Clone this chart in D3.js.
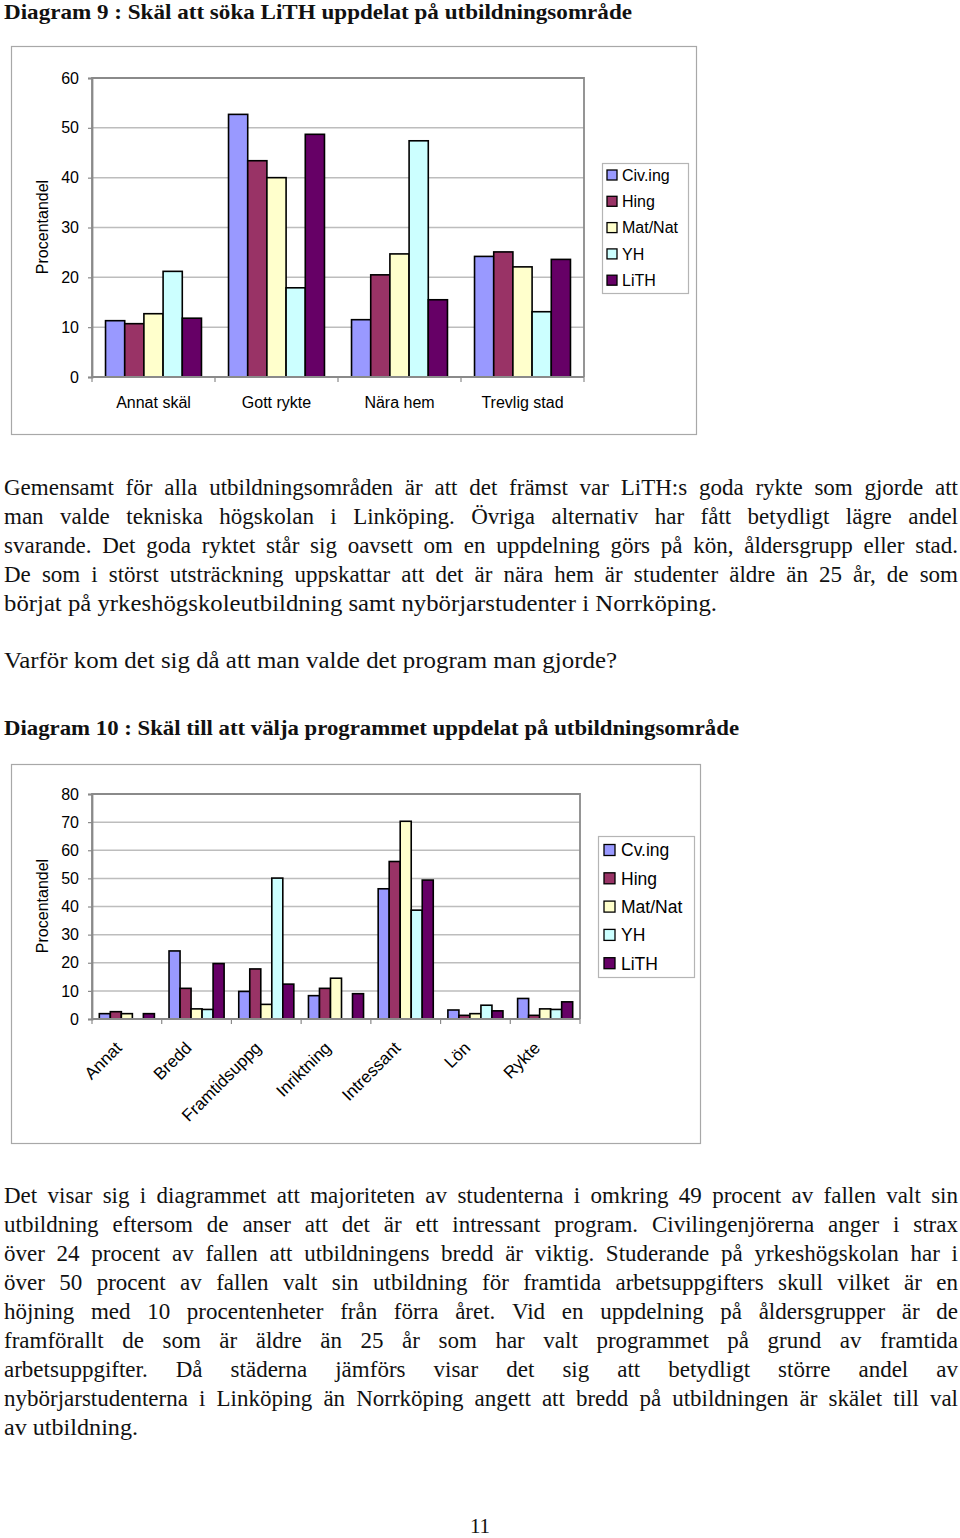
<!DOCTYPE html>
<html><head><meta charset="utf-8">
<script src="https://cdn.jsdelivr.net/npm/d3@7"></script>
<style>body{margin:0;background:#fff}svg{display:block}</style>
</head><body>
<svg id="page" width="960" height="1538"></svg>
<script>
// ---------- DATA ----------
const seriesNames1 = ["Civ.ing", "Hing", "Mat/Nat", "YH", "LiTH"];
const seriesNames2 = ["Cv.ing", "Hing", "Mat/Nat", "YH", "LiTH"];
const seriesColors = ["#9999FF", "#993366", "#FFFFCC", "#CCFFFF", "#660066"];

const c1Categories = ["Annat skäl", "Gott rykte", "Nära hem", "Trevlig stad"];
const c1CivIng = [11.3, 52.7, 11.5, 24.2];
const c1Hing   = [10.7, 43.4, 20.5, 25.1];
const c1MatNat = [12.7, 40.0, 24.7, 22.1];
const c1YH     = [21.2, 17.9, 47.4, 13.1];
const c1LiTH   = [11.8, 48.7, 15.5, 23.6];
const c1Ticks  = [0, 10, 20, 30, 40, 50, 60];

const c2Categories = ["Annat", "Bredd", "Framtidsuppg", "Inriktning", "Intressant", "Lön", "Rykte"];
const c2CivIng = [1.9, 24.2, 9.8, 8.3, 46.3, 3.2, 7.3];
const c2Hing   = [2.6, 10.9, 17.8, 10.9, 56.0, 1.3, 1.3];
const c2MatNat = [1.9, 3.6, 5.2, 14.5, 70.3, 1.9, 3.6];
const c2YH     = [0, 3.4, 50.1, 0, 38.7, 4.9, 3.4];
const c2LiTH   = [1.9, 19.7, 12.4, 9.0, 49.4, 2.9, 6.1];
const c2Ticks  = [0, 10, 20, 30, 40, 50, 60, 70, 80];

const yTitle = "Procentandel";

// ---------- TEXT ----------
const title1 = "Diagram 9 : Skäl att söka LiTH uppdelat på utbildningsområde";
const title2 = "Diagram 10 : Skäl till att välja programmet uppdelat på utbildningsområde";
const para1 = [
  ["Gemensamt för alla utbildningsområden är att det främst var LiTH:s goda rykte som gjorde att", "j"],
  ["man valde tekniska högskolan i Linköping. Övriga alternativ har fått betydligt lägre andel", "j"],
  ["svarande. Det goda ryktet står sig oavsett om en uppdelning görs på kön, åldersgrupp eller stad.", "j"],
  ["De som i störst utsträckning uppskattar att det är nära hem är studenter äldre än 25 år, de som", "j"],
  ["börjat på yrkeshögskoleutbildning samt nybörjarstudenter i Norrköping.", 717]
];
const question = ["Varför kom det sig då att man valde det program man gjorde?", 617];
const para2 = [
  ["Det visar sig i diagrammet att majoriteten av studenterna i omkring 49 procent av fallen valt sin", "j"],
  ["utbildning eftersom de anser att det är ett intressant program. Civilingenjörerna anger i strax", "j"],
  ["över 24 procent av fallen att utbildningens bredd är viktig. Studerande på yrkeshögskolan har i", "j"],
  ["över 50 procent av fallen valt sin utbildning för framtida arbetsuppgifters skull vilket är en", "j"],
  ["höjning med 10 procentenheter från förra året. Vid en uppdelning på åldersgrupper är de", "j"],
  ["framförallt de som är äldre än 25 år som har valt programmet på grund av framtida", "j"],
  ["arbetsuppgifter. Då städerna jämförs visar det sig att betydligt större andel av", "j"],
  ["nybörjarstudenterna i Linköping än Norrköping angett att bredd på utbildningen är skälet till val", "j"],
  ["av utbildning.", 138]
];

const svg = d3.select("#page");
svg.append("rect").attr("width", 960).attr("height", 1538).attr("fill", "#fff");

const SERIF = "'Liberation Serif','DejaVu Serif',serif";
const SANS = "'Liberation Sans',Arial,sans-serif";
const LEFT = 4, RIGHT = 958, FS = 23;

function textLine(str, y, mode, bold, size) {
  const g = svg.append("g");
  const font = s => s.attr("font-family", SERIF).attr("font-size", size || FS)
    .attr("font-weight", bold ? "bold" : "normal").attr("fill", "#111");
  if (mode === "j") {
    const words = str.split(" ");
    const widths = words.map(w => {
      const t = font(g.append("text")).text(w);
      const wd = t.node().getComputedTextLength(); t.remove(); return wd;
    });
    const total = d3.sum(widths);
    const gap = (RIGHT - LEFT - total) / (words.length - 1);
    if (gap >= 4) {
      let x = LEFT;
      words.forEach((w, i) => {
        font(g.append("text")).attr("x", x).attr("y", y).text(w);
        x += widths[i] + gap;
      });
    } else {
      font(g.append("text")).attr("x", LEFT).attr("y", y)
        .attr("textLength", RIGHT - LEFT).attr("lengthAdjust", "spacingAndGlyphs").text(str);
    }
  } else {
    font(g.append("text")).attr("x", LEFT).attr("y", y)
      .attr("textLength", mode - LEFT).attr("lengthAdjust", "spacingAndGlyphs").text(str);
  }
}

textLine(title1, 19, 632, true, 21.5);
textLine(title2, 735, 739, true, 21.5);
para1.forEach((l, i) => textLine(l[0], 495 + i * 29, l[1]));
textLine(question[0], 668, question[1]);
para2.forEach((l, i) => textLine(l[0], 1203 + i * 29, l[1]));
svg.append("text").attr("x", 480).attr("y", 1533).attr("text-anchor", "middle")
  .attr("font-family", SERIF).attr("font-size", 21).attr("fill", "#111").text("11");

// ---------- CHART FUNCTION ----------
function drawChart(cfg) {
  const g = svg.append("g");
  g.append("rect").attr("x", cfg.frame[0] + 0.5).attr("y", cfg.frame[1] + 0.5)
    .attr("width", cfg.frame[2] - cfg.frame[0]).attr("height", cfg.frame[3] - cfg.frame[1])
    .attr("fill", "#fff").attr("stroke", "#a8a8a8").attr("stroke-width", 1.2);

  const [px0, py0, px1, py1] = cfg.plot;
  const y = d3.scaleLinear().domain([0, cfg.ticks[cfg.ticks.length - 1]]).range([py1, py0]);
  const x0 = d3.scaleBand().domain(cfg.categories).range([px0, px1])
    .paddingInner(cfg.pad).paddingOuter(cfg.pad / 2);
  const x1 = d3.scaleBand().domain(d3.range(cfg.series.length)).range([0, x0.bandwidth()]);

  g.append("g").selectAll("line").data(cfg.ticks.filter(t => t > 0)).join("line")
    .attr("x1", px0).attr("x2", px1).attr("y1", d => y(d)).attr("y2", d => y(d))
    .attr("stroke", "#bdbdbd").attr("stroke-width", 1.5);
  g.append("path").attr("d", `M${px0},${py1}V${py0}H${px1}V${py1}`)
    .attr("fill", "none").attr("stroke", "#8a8a8a").attr("stroke-width", 1.8);

  const yAxis = g.append("g").attr("transform", `translate(${px0},0)`)
    .call(d3.axisLeft(y).tickValues(cfg.ticks).tickSize(4).tickPadding(9).tickFormat(d3.format("d")));
  yAxis.select(".domain").attr("stroke", "#8a8a8a").attr("stroke-width", 1.8);
  yAxis.selectAll(".tick line").attr("stroke", "#8a8a8a").attr("stroke-width", 1.2);
  yAxis.selectAll(".tick text").attr("font-family", SANS).attr("font-size", 16).attr("fill", "#000");

  const groups = g.append("g").selectAll("g").data(cfg.categories).join("g")
    .attr("transform", d => `translate(${x0(d)},0)`);
  groups.selectAll("rect").data((d, ci) => cfg.values.map((arr, si) => ({ si, v: arr[ci] })))
    .join("rect")
    .filter(d => d.v > 0)
    .attr("x", d => x1(d.si)).attr("width", x1.bandwidth())
    .attr("y", d => y(d.v)).attr("height", d => y(0) - y(d.v))
    .attr("fill", d => cfg.colors[d.si]).attr("stroke", "#000").attr("stroke-width", 1.6);

  g.append("line").attr("x1", px0).attr("x2", px1).attr("y1", py1).attr("y2", py1)
    .attr("stroke", "#8a8a8a").attr("stroke-width", 1.8);
  g.append("g").selectAll("line").data(d3.range(cfg.categories.length + 1)).join("line")
    .attr("x1", i => px0 + i * x0.step()).attr("x2", i => px0 + i * x0.step())
    .attr("y1", py1).attr("y2", py1 + 5).attr("stroke", "#8a8a8a").attr("stroke-width", 1.2);

  const cx = d => x0(d) + x0.bandwidth() / 2;
  if (cfg.rotate) {
    g.append("g").selectAll("text").data(cfg.categories).join("text")
      .attr("transform", d => `translate(${cx(d) - 4},${py1 + 30}) rotate(-45)`)
      .attr("text-anchor", "end").attr("font-family", SANS).attr("font-size", 17).text(d => d);
  } else {
    g.append("g").selectAll("text").data(cfg.categories).join("text")
      .attr("x", cx).attr("y", py1 + 31).attr("text-anchor", "middle")
      .attr("font-family", SANS).attr("font-size", 16).text(d => d);
  }

  g.append("text").attr("transform", `translate(${cfg.ytitle[0]},${cfg.ytitle[1]}) rotate(-90)`)
    .attr("text-anchor", "middle").attr("font-family", SANS).attr("font-size", 16).text(yTitle);

  const L = cfg.legend;
  g.append("rect").attr("x", L.box[0] + 0.5).attr("y", L.box[1] + 0.5)
    .attr("width", L.box[2] - L.box[0]).attr("height", L.box[3] - L.box[1])
    .attr("fill", "#fff").attr("stroke", "#b5b5b5").attr("stroke-width", 1.2);
  const items = g.append("g").selectAll("g").data(cfg.series).join("g")
    .attr("transform", (d, i) => `translate(${L.sx},${L.y0 + i * L.step})`);
  items.append("rect").attr("x", 0).attr("y", -L.sw / 2).attr("width", L.sw).attr("height", L.sw)
    .attr("fill", (d, i) => cfg.colors[i]).attr("stroke", "#000").attr("stroke-width", 1.3);
  items.append("text").attr("x", L.tx).attr("y", 0).attr("dy", "0.36em")
    .attr("font-family", SANS).attr("font-size", L.fs).text(d => d);
}

drawChart({
  frame: [11, 46, 696, 434],
  plot: [92, 78, 584, 377],
  categories: c1Categories,
  series: seriesNames1,
  values: [c1CivIng, c1Hing, c1MatNat, c1YH, c1LiTH],
  colors: seriesColors,
  ticks: c1Ticks,
  pad: 0.22,
  rotate: false,
  ytitle: [48, 227],
  legend: { box: [602, 163, 688, 293], sx: 607, y0: 175, step: 26.3, sw: 10, tx: 15, fs: 16 }
});

drawChart({
  frame: [11, 764, 700, 1143],
  plot: [92, 794, 580, 1019],
  categories: c2Categories,
  series: seriesNames2,
  values: [c2CivIng, c2Hing, c2MatNat, c2YH, c2LiTH],
  colors: seriesColors,
  ticks: c2Ticks,
  pad: 0.21,
  rotate: true,
  ytitle: [48, 906],
  legend: { box: [598, 836, 694, 977], sx: 604, y0: 850, step: 28.3, sw: 11, tx: 17, fs: 17.5 }
});
</script>
</body></html>
